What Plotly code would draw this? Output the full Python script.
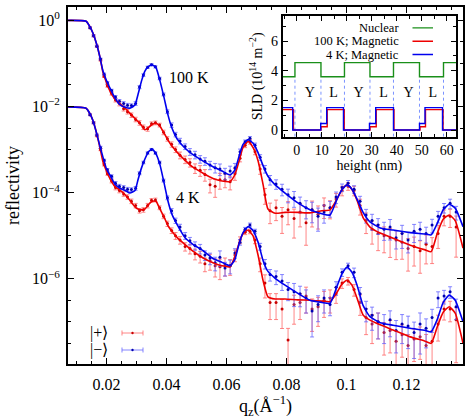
import numpy as np
import plotly.graph_objects as go

FONT = "Liberation Serif"
RED = "#ee0000"
BLUE = "#0000ee"
RED_DOT = "#c80000"
BLUE_DOT = "#0000b0"
RED_BAR = "rgba(255,95,95,0.75)"
BLUE_BAR = "rgba(95,95,255,0.75)"

# fitted reflectivity curves (log10 R), shared q grid
q_fit = [
    0.0072, 0.0132, 0.0145, 0.0155, 0.0167, 0.0178, 0.0188, 0.0200, 0.0212, 0.0228,
    0.0245, 0.0262, 0.0278, 0.0295, 0.0305, 0.0317, 0.0328, 0.0340, 0.0352, 0.0365,
    0.0378, 0.0392, 0.0405, 0.0418, 0.0435, 0.0462, 0.0488, 0.0522, 0.0555, 0.0585,
    0.0612, 0.0628, 0.0642, 0.0655, 0.0672, 0.0688, 0.0705, 0.0722, 0.0738, 0.0762,
    0.0795, 0.0838, 0.0878, 0.0918, 0.0945, 0.0968, 0.0985, 0.1002, 0.1018, 0.1035,
    0.1055, 0.1078, 0.1112, 0.1155, 0.1212, 0.1262, 0.1282, 0.1302, 0.1322, 0.1342,
    0.1362, 0.1388]

fit_100K_minus = [
    0.0, -0.02, -0.15, -0.30, -0.55, -0.85, -1.17, -1.40, -1.58, -1.80,
    -1.96, -2.02, -2.04, -1.96, -1.72, -1.40, -1.18, -1.07, -1.03, -1.10,
    -1.40, -1.80, -2.20, -2.50, -2.75, -2.97, -3.12, -3.27, -3.40, -3.50,
    -3.59, -3.47, -3.15, -2.88, -2.77, -2.85, -3.07, -3.38, -3.62, -3.82,
    -4.01, -4.24, -4.40, -4.49, -4.52, -4.15, -3.93, -3.82, -3.92, -4.15,
    -4.46, -4.68, -4.82, -4.87, -4.93, -4.96, -4.98, -4.72, -4.40, -4.27,
    -4.36, -4.79]

fit_100K_plus = [
    0.0, -0.02, -0.15, -0.30, -0.55, -0.85, -1.20, -1.45, -1.65, -1.83,
    -1.94, -2.04, -2.16, -2.28, -2.35, -2.44, -2.54, -2.49, -2.42, -2.39,
    -2.46, -2.62, -2.78, -2.92, -3.06, -3.25, -3.41, -3.55, -3.67, -3.73,
    -3.74, -3.58, -3.26, -2.95, -2.81, -2.95, -3.26, -3.82, -4.38, -4.48,
    -4.46, -4.46, -4.47, -4.42, -4.40, -4.15, -3.93, -3.82, -3.93, -4.18,
    -4.58, -4.80, -4.94, -5.06, -5.22, -5.33, -5.37, -4.95, -4.62, -4.52,
    -4.65, -5.29]

fit_4K_minus = [
    -2.01, -2.04, -2.17, -2.33, -2.62, -2.92, -3.17, -3.45, -3.60, -3.80,
    -3.90, -3.95, -4.01, -3.95, -3.70, -3.42, -3.22, -3.05, -2.99, -3.10,
    -3.35, -3.78, -4.20, -4.50, -4.74, -5.05, -5.20, -5.35, -5.53, -5.62,
    -5.70, -5.55, -5.18, -4.93, -4.79, -4.88, -5.15, -5.58, -5.83, -5.99,
    -6.15, -6.34, -6.50, -6.55, -6.57, -6.18, -5.88, -5.73, -5.85, -6.15,
    -6.62, -6.88, -7.02, -7.08, -7.15, -7.20, -7.23, -6.95, -6.55, -6.38,
    -6.50, -7.00]

fit_4K_plus = [
    -2.01, -2.04, -2.17, -2.33, -2.62, -2.95, -3.28, -3.50, -3.68, -3.86,
    -3.94, -4.05, -4.18, -4.33, -4.38, -4.40, -4.38, -4.28, -4.20, -4.20,
    -4.38, -4.57, -4.77, -4.90, -5.04, -5.21, -5.36, -5.52, -5.63, -5.70,
    -5.72, -5.48, -5.17, -4.95, -4.87, -5.00, -5.45, -6.05, -6.42, -6.47,
    -6.47, -6.49, -6.50, -6.52, -6.53, -6.32, -6.12, -6.03, -6.15, -6.45,
    -6.84, -6.96, -7.07, -7.19, -7.35, -7.45, -7.50, -7.12, -6.78, -6.65,
    -6.80, -7.50]

# measured points (log10 R) and relative errors
q_data = [
    0.0145, 0.0157, 0.0168, 0.0180, 0.0192, 0.0203, 0.0217, 0.0230, 0.0243, 0.0257,
    0.0270, 0.0283, 0.0297, 0.0310, 0.0323, 0.0337, 0.0350, 0.0363, 0.0377, 0.0390,
    0.0403, 0.0417, 0.0430,
    0.0445, 0.0462, 0.0478, 0.0495, 0.0512, 0.0528, 0.0545, 0.0562, 0.0578, 0.0595,
    0.0612, 0.0628, 0.0645, 0.0662, 0.0678, 0.0695, 0.0712, 0.0728, 0.0745,
    0.0765, 0.0785, 0.0805, 0.0825, 0.0845, 0.0865, 0.0885, 0.0905, 0.0925, 0.0945,
    0.0965, 0.0985, 0.1005, 0.1025, 0.1045, 0.1065, 0.1085, 0.1105, 0.1125, 0.1145,
    0.1165, 0.1185, 0.1205, 0.1225, 0.1245, 0.1265, 0.1285, 0.1305, 0.1325, 0.1345,
    0.1365]

data_100K_minus = [
    -0.17, -0.36, -0.60, -0.90, -1.25, -1.45, -1.63, -1.78, -1.88, -1.93,
    -1.97, -1.98, -1.93, -1.55, -1.27, -1.09, -1.03, -1.08, -1.35, -1.72,
    -2.12, -2.43, -2.65,
    -2.80, -2.93, -3.05, -3.12, -3.22, -3.27, -3.36, -3.42, -3.45, -3.55,
    -3.50, -3.42, -3.05, -2.82, -2.74, -2.90, -3.18, -3.45, -3.70,
    -3.80, -3.92, -4.05, -4.12, -4.25, -4.35, -4.40, -4.55, -4.45, -4.35,
    -4.10, -3.88, -3.78, -3.92, -4.20, -4.52, -4.65, -4.75, -4.85, -4.80,
    -5.05, -4.95, -5.10, -4.90, -4.85, -4.95, -4.75, -4.55, -4.35, -4.25,
    -4.45]
err_100K_minus = [
    0.05, 0.05, 0.05, 0.05, 0.06, 0.06, 0.07, 0.08, 0.10, 0.10,
    0.10, 0.10, 0.10, 0.08, 0.07, 0.06, 0.06, 0.06, 0.07, 0.08,
    0.10, 0.12, 0.12,
    0.15, 0.15, 0.18, 0.20, 0.20, 0.20, 0.22, 0.25, 0.30, 0.30,
    0.30, 0.25, 0.15, 0.10, 0.10, 0.12, 0.15, 0.20, 0.25,
    0.25, 0.30, 0.35, 0.40, 0.40, 0.45, 0.50, 0.55, 0.45, 0.40,
    0.30, 0.20, 0.15, 0.20, 0.30, 0.35, 0.40, 0.40, 0.45, 0.50,
    0.45, 0.55, 0.50, 0.45, 0.45, 0.40, 0.35, 0.30, 0.25, 0.25,
    0.35]

data_100K_plus = [
    -0.17, -0.36, -0.60, -0.92, -1.30, -1.52, -1.70, -1.85, -1.93, -2.05,
    -2.12, -2.20, -2.30, -2.38, -2.48, -2.52, -2.40, -2.38, -2.43, -2.60,
    -2.75, -2.88, -3.00,
    -3.13, -3.23, -3.30, -3.43, -3.48, -3.58, -3.82, -3.85, -3.70, -3.70,
    -3.75, -3.56, -3.20, -2.90, -2.82, -3.05, -3.45, -4.05, -4.42,
    -4.35, -4.55, -4.40, -4.60, -4.45, -4.70, -4.40, -4.50, -4.30, -4.35,
    -4.15, -3.95, -3.85, -3.95, -4.30, -4.65, -4.85, -4.95, -5.00, -5.05,
    -5.10, -5.15, -5.30, -5.25, -5.35, -5.20, -5.25, -4.95, -4.55, -4.55,
    -4.80]
err_100K_plus = [
    0.05, 0.05, 0.05, 0.05, 0.06, 0.07, 0.08, 0.10, 0.12, 0.12,
    0.12, 0.12, 0.12, 0.12, 0.12, 0.12, 0.10, 0.10, 0.10, 0.12,
    0.12, 0.14, 0.15,
    0.18, 0.20, 0.22, 0.25, 0.28, 0.30, 0.35, 0.45, 0.40, 0.35,
    0.35, 0.30, 0.18, 0.12, 0.12, 0.15, 0.25, 0.40, 0.50,
    0.50, 0.60, 0.55, 0.65, 0.55, 0.70, 0.60, 0.55, 0.50, 0.45,
    0.35, 0.25, 0.20, 0.25, 0.40, 0.50, 0.55, 0.60, 0.60, 0.65,
    0.65, 0.60, 0.70, 0.65, 0.70, 0.65, 0.60, 0.55, 0.40, 0.45,
    0.80]

data_4K_minus = [
    -2.19, -2.38, -2.66, -2.95, -3.25, -3.47, -3.62, -3.78, -3.85, -3.88,
    -3.92, -3.93, -3.90, -3.55, -3.30, -3.08, -3.00, -3.08, -3.30, -3.72,
    -4.12, -4.42, -4.65,
    -4.80, -5.00, -5.12, -5.23, -5.30, -5.45, -5.52, -5.63, -5.50, -5.75,
    -5.70, -5.40, -5.15, -4.85, -4.75, -4.90, -5.25, -5.65, -5.90,
    -5.95, -6.05, -6.25, -6.30, -6.35, -6.45, -6.75, -6.60, -6.45, -6.60,
    -6.20, -5.85, -5.70, -5.85, -6.35, -6.70, -6.85, -7.00, -7.05, -6.95,
    -7.20, -7.05, -7.10, -7.25, -7.05, -7.15, -6.90, -6.45, -6.40, -6.30,
    -6.65]
err_4K_minus = [
    0.05, 0.05, 0.05, 0.06, 0.06, 0.07, 0.08, 0.09, 0.10, 0.10,
    0.10, 0.10, 0.10, 0.08, 0.07, 0.06, 0.06, 0.06, 0.07, 0.08,
    0.10, 0.12, 0.14,
    0.16, 0.18, 0.20, 0.22, 0.25, 0.25, 0.30, 0.35, 0.40, 0.35,
    0.35, 0.25, 0.15, 0.10, 0.10, 0.12, 0.18, 0.25, 0.30,
    0.35, 0.40, 0.45, 0.55, 0.50, 0.55, 0.75, 0.60, 0.55, 0.45,
    0.35, 0.20, 0.15, 0.25, 0.40, 0.50, 0.55, 0.60, 0.65, 0.60,
    0.70, 0.65, 0.70, 0.75, 0.80, 0.65, 0.55, 0.40, 0.35, 0.30,
    0.50]

data_4K_plus = [
    -2.19, -2.38, -2.68, -3.00, -3.35, -3.56, -3.73, -3.88, -3.95, -4.03,
    -4.10, -4.20, -4.30, -4.42, -4.40, -4.30, -4.18, -4.17, -4.35, -4.55,
    -4.72, -4.88, -5.00,
    -5.10, -5.25, -5.30, -5.42, -5.48, -5.65, -5.58, -5.70, -5.72, -5.68,
    -5.70, -5.45, -5.10, -4.92, -4.90, -5.10, -5.65, -6.10, -6.55,
    -6.55, -6.70, -7.42, -6.60, -6.55, -6.40, -6.70, -6.65, -6.50, -6.45,
    -6.35, -6.10, -6.05, -6.25, -6.55, -6.90, -7.05, -7.00, -7.25, -7.20,
    -7.45, -7.30, -7.55, -7.40, -7.35, -7.55, -7.45, -7.05, -6.70, -6.70,
    -6.95]
err_4K_plus = [
    0.05, 0.05, 0.05, 0.06, 0.07, 0.08, 0.10, 0.12, 0.12, 0.12,
    0.12, 0.12, 0.12, 0.12, 0.12, 0.12, 0.10, 0.10, 0.10, 0.12,
    0.14, 0.15, 0.18,
    0.20, 0.22, 0.25, 0.28, 0.30, 0.35, 0.40, 0.45, 0.50, 0.45,
    0.40, 0.30, 0.18, 0.12, 0.12, 0.18, 0.35, 0.55, 0.60,
    0.60, 0.65, 0.85, 0.65, 0.60, 0.60, 0.70, 0.65, 0.60, 0.55,
    0.40, 0.25, 0.20, 0.30, 0.50, 0.60, 0.65, 0.60, 0.70, 0.70,
    0.75, 0.70, 0.80, 0.70, 0.70, 0.80, 0.75, 0.60, 0.45, 0.50,
    0.90]

# inset: scattering length density profiles (step edges in nm)
nuc_x = [-5.6, -0.7, 9.7, 19.1, 29.3, 38.7, 49.1, 58.7, 63.7]
nuc_sld = [3.6, 4.55, 3.6, 4.55, 3.6, 4.55, 3.6, 4.55, 4.55]
mag100_x = [-5.6, -1.3, 9.7, 12.2, 19.0, 29.3, 31.8, 38.9, 49.3, 51.5, 58.5, 63.7]
mag100_sld = [1.38, 0.0, 0.22, 1.38, 0.0, 0.22, 1.38, 0.0, 0.22, 1.38, 0.0, 0.0]
mag4_x = [-5.6, -1.6, 9.6, 12.0, 18.7, 29.1, 31.6, 38.7, 49.1, 51.3, 58.3, 63.7]
mag4_sld = [1.51, 0.0, 0.44, 1.51, 0.0, 0.44, 1.51, 0.0, 0.44, 1.51, 0.0, 0.0]
interfaces = [-0.7, 9.7, 19.1, 29.3, 38.7, 49.1, 58.7]
layer_x = [5.3, 14.7, 24.7, 34.7, 44.7, 54.4]
layer_names = ["Y", "L", "Y", "L", "Y", "L"]

x_ticks = [0.02, 0.04, 0.06, 0.08, 0.10, 0.12]
x_labels = ["0.02", "0.04", "0.06", "0.08", "0.1", "0.12"]
y_ticks = [1, 1e-2, 1e-4, 1e-6]
y_labels = ["10<sup>0</sup>", "10<sup>\u22122</sup>", "10<sup>\u22124</sup>", "10<sup>\u22126</sup>"]

fig = go.Figure()


def add_data(logr, rel, dot, bar):
    r = 10 ** np.array(logr)
    e = r * np.array(rel)
    fig.add_trace(go.Scatter(
        x=q_data, y=r, mode="markers", marker=dict(size=3, color=dot),
        error_y=dict(type="data", array=e, arrayminus=e, color=bar, thickness=1, width=2),
        showlegend=False, hoverinfo="skip"))


def add_fit(logr, color):
    fig.add_trace(go.Scatter(
        x=q_fit, y=10 ** np.array(logr), mode="lines",
        line=dict(color=color, width=1.6, shape="spline", smoothing=0.5),
        showlegend=False, hoverinfo="skip"))


add_data(data_100K_plus, err_100K_plus, RED_DOT, RED_BAR)
add_data(data_4K_plus, err_4K_plus, RED_DOT, RED_BAR)
add_data(data_100K_minus, err_100K_minus, BLUE_DOT, BLUE_BAR)
add_data(data_4K_minus, err_4K_minus, BLUE_DOT, BLUE_BAR)
add_fit(fit_100K_plus, RED)
add_fit(fit_4K_plus, RED)
add_fit(fit_100K_minus, BLUE)
add_fit(fit_4K_minus, BLUE)

# inset traces
dot_x, dot_y = [], []
for b in interfaces:
    dot_x += [b, b, None]
    dot_y += [-0.45, 3.6, None]
fig.add_trace(go.Scatter(x=dot_x, y=dot_y, mode="lines", xaxis="x2", yaxis="y2",
                         line=dict(color="rgba(90,120,255,0.8)", width=1, dash="dot"),
                         showlegend=False, hoverinfo="skip"))
fig.add_trace(go.Scatter(x=nuc_x, y=nuc_sld, mode="lines", xaxis="x2", yaxis="y2",
                         line=dict(color="#1a8f1a", width=1.4, shape="hv"),
                         showlegend=False, hoverinfo="skip"))
fig.add_trace(go.Scatter(x=mag100_x, y=mag100_sld, mode="lines", xaxis="x2", yaxis="y2",
                         line=dict(color=RED, width=1.4, shape="hv"),
                         showlegend=False, hoverinfo="skip"))
fig.add_trace(go.Scatter(x=mag4_x, y=mag4_sld, mode="lines", xaxis="x2", yaxis="y2",
                         line=dict(color=BLUE, width=1.4, shape="hv"),
                         showlegend=False, hoverinfo="skip"))
fig.add_trace(go.Scatter(x=layer_x, y=[2.45] * len(layer_x), mode="text", text=layer_names,
                         xaxis="x2", yaxis="y2", textfont=dict(family=FONT, size=14, color="black"),
                         showlegend=False, hoverinfo="skip"))

axis_common = dict(showline=True, linewidth=2, linecolor="black", mirror="allticks",
                   ticks="inside", tickwidth=1, tickcolor="black", showgrid=False,
                   zeroline=False, automargin=False)

fig.update_layout(
    width=469, height=419,
    margin=dict(l=68, r=6, t=7, b=55),
    paper_bgcolor="white", plot_bgcolor="white",
    font=dict(family=FONT, size=15, color="black"),
    showlegend=False,
    xaxis=dict(axis_common, range=[0.00717, 0.1388], tickmode="array",
               tickvals=x_ticks, ticktext=x_labels, ticklen=6, ticklabelstandoff=5,
               tickfont=dict(size=16),
               minor=dict(dtick=0.005, tick0=0, ticks="inside", ticklen=3, tickcolor="black"),
               title=dict(text="q<sub>z</sub>(\u00c5<sup>\u22121</sup>)", standoff=7)),
    yaxis=dict(axis_common, type="log", range=[-7.98, 0.31], tickmode="array",
               tickvals=y_ticks, ticktext=y_labels, ticklen=6, ticklabelstandoff=3,
               tickfont=dict(size=16),
               minor=dict(tickmode="array", ticks="inside", ticklen=3, tickcolor="black",
                          tickvals=[10 ** (-0.5 * k) for k in range(1, 16) if k % 4]),
               title=dict(text="reflectivity", standoff=8)),
    xaxis2=dict(axis_common, domain=[0.5435, 0.9823], anchor="y2", range=[-5.6, 63.7],
                tickvals=[0, 10, 20, 30, 40, 50, 60], ticklen=5, tickfont=dict(size=14),
                minor=dict(dtick=5, tick0=0, ticks="inside", ticklen=3, tickcolor="black"),
                title=dict(text="height (nm)", font=dict(size=14), standoff=2)),
    yaxis2=dict(axis_common, domain=[0.6367, 0.9748], anchor="x2", range=[-0.45, 7.7],
                tickvals=[0, 2, 4, 6], ticklen=5, tickfont=dict(size=14),
                minor=dict(dtick=1, tick0=0, ticks="inside", ticklen=3, tickcolor="black"),
                title=dict(text="SLD (10<sup>14</sup> m<sup>\u22122</sup>)",
                           font=dict(size=14), standoff=5)),
)

# temperature labels (log-axis annotations take log10 values)
fig.add_annotation(x=0.0402, y=-1.33, xref="x", yref="y", text="100 K", showarrow=False,
                   xanchor="left", font=dict(size=16))
fig.add_annotation(x=0.0425, y=-4.12, xref="x", yref="y", text="4 K", showarrow=False,
                   xanchor="left", font=dict(size=16))

# main legend: ket labels with error-bar samples
for yp, label, dot, bar in [(0.0868, "|+\u27e9", RED_DOT, RED_BAR),
                            (0.0392, "|\u2212\u27e9", BLUE_DOT, BLUE_BAR)]:
    fig.add_annotation(x=0.106, y=yp, xref="paper", yref="paper", text=label,
                       showarrow=False, xanchor="right", yanchor="middle", font=dict(size=16))
    fig.add_shape(type="line", xref="paper", yref="paper", x0=0.1367, x1=0.1899, y0=yp, y1=yp,
                  line=dict(color=bar, width=1))
    for xe in (0.1367, 0.1899):
        fig.add_shape(type="line", xref="paper", yref="paper", x0=xe, x1=xe,
                      y0=yp - 0.007, y1=yp + 0.007, line=dict(color=bar, width=1))
    fig.add_shape(type="circle", xref="paper", yref="paper", x0=0.1603, x1=0.1663,
                  y0=yp - 0.0035, y1=yp + 0.0035, line=dict(width=0), fillcolor=dot)

# inset legend
for yv, label, color in [(6.9, "Nuclear", "#1a8f1a"), (6.0, "100 K; Magnetic", RED),
                         (5.1, "4 K; Magnetic", BLUE)]:
    fig.add_annotation(x=41.9, y=yv, xref="x2", yref="y2", text=label, showarrow=False,
                       xanchor="right", yanchor="middle", font=dict(size=12.5))
    fig.add_shape(type="line", xref="x2", yref="y2", x0=46.3, x1=54.5, y0=yv, y1=yv,
                  line=dict(color=color, width=1.4))

# the page's default body margin would shift the figure by 8 px
fig.write_html("out.html", config={"displayModeBar": False},
               post_script="document.body.style.margin = '0px';")
